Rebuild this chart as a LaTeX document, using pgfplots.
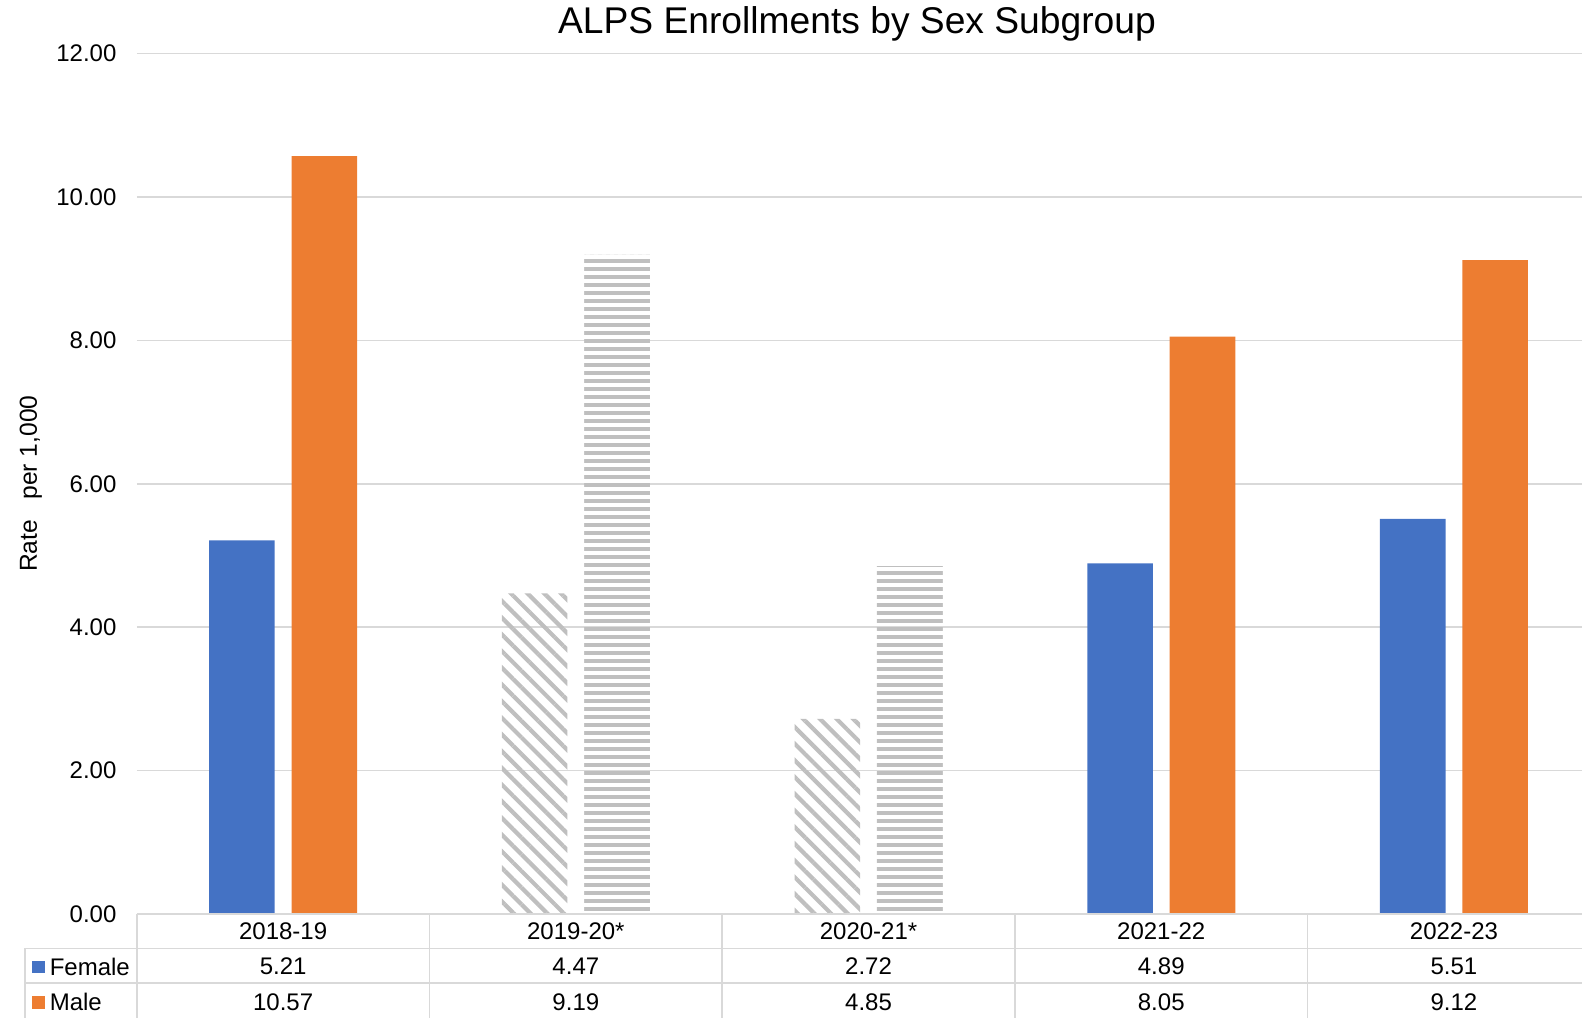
\documentclass[border=0pt]{standalone}
\usepackage{pgfplots}
\pgfplotsset{compat=1.18}
\usepackage{fontspec}
\setmainfont{Liberation Sans}
\usetikzlibrary{patterns,patterns.meta}
\definecolor{fblue}{HTML}{4472C4}
\definecolor{morange}{HTML}{ED7D31}
\definecolor{hatchc}{HTML}{BFBFBF}
\definecolor{gridc}{HTML}{D9D9D9}
\pgfdeclarepatternformonly{thickhlines}{\pgfpoint{-1pt}{0pt}}{\pgfpoint{5pt}{4pt}}{\pgfpoint{4pt}{4pt}}{
  \pgfpathrectangle{\pgfpoint{-1pt}{1pt}}{\pgfpoint{6pt}{2pt}}
  \pgfusepath{fill}
}
\begin{document}
\begin{tikzpicture}
\path[use as bounding box, clip] (-68.4pt,-51.5pt) rectangle (722.6pt,457pt);
\begin{axis}[
  scale only axis, width=731.75pt, height=430.25pt,
  at={(0,0)}, anchor=south west,
  xmin=-0.5, xmax=4.5, ymin=0, ymax=12,
  xtick={0,1,2,3,4},
  xticklabels={2018-19,2019-20*,2020-21*,2021-22,2022-23},
  ytick={0,2,4,6,8,10,12},
  /pgf/number format/assume math mode=true,
  yticklabel={\pgfmathprintnumber[fixed,fixed zerofill,precision=2]{\tick}},
  major tick length=0pt,
  axis line style={draw=none},
  ymajorgrids, grid style={gridc, line width=0.75pt},
  tick label style={font=\fontsize{12}{14}\selectfont},
  yticklabel style={anchor=east, inner sep=0pt, xshift=-10pt},
  xticklabel style={anchor=base, inner sep=0pt, yshift=-12.65pt},
  title={ALPS Enrollments by Sex Subgroup},
  title style={font=\fontsize{18.6}{22}\selectfont, at={(axis description cs:0.4921,1)}, anchor=base, inner sep=0pt, yshift=4pt},
  ylabel={Rate\ \ \ per 1,000},
  ylabel style={font=\fontsize{12.3}{14}\selectfont, at={(axis description cs:-0.0724,0.5)}, anchor=center, inner sep=0pt},
  legend style={draw=none, fill=none, inner xsep=0pt, inner ysep=0pt,
    at={(axis description cs:0,0)}, anchor=north west, xshift=-52.4pt, yshift=-17.2pt,
    row sep=0pt, column sep=2.4pt,
    font=\fontsize{12}{14}\selectfont,
    nodes={inner sep=0pt, text height=13.3pt, text depth=4.35pt}},
  legend cell align=left,
  legend image code/.code={\fill[#1] (0pt,-3.4pt) rectangle (6.3pt,2.7pt);},
  clip=false,
]
% Female, solid years
\addplot[ybar, bar width=32.8pt, bar shift=-20.6pt, fill=fblue, draw=none]
  coordinates {(0,5.21) (3,4.89) (4,5.51)};
\addlegendentry{Female}
% Male, solid years
\addplot[ybar, bar width=32.8pt, bar shift=20.6pt, fill=morange, draw=none]
  coordinates {(0,10.57) (3,8.05) (4,9.12)};
\addlegendentry{Male}
% Female, hatched years
\addplot[ybar, bar width=32.8pt, bar shift=-20.6pt, draw=none, forget plot,
  pattern={Lines[angle=-45, distance=5.9pt, line width=2.1pt]}, pattern color=hatchc]
  coordinates {(1,4.47) (2,2.72)};
% Male, hatched years
\addplot[ybar, bar width=32.8pt, bar shift=20.6pt, draw=none, forget plot,
  pattern=thickhlines, pattern color=hatchc]
  coordinates {(1,9.19) (2,4.85)};
% data table values
\node[anchor=base, font=\fontsize{12}{14}\selectfont, yshift=-30.4pt] at (axis cs:0,0) {5.21};
\node[anchor=base, font=\fontsize{12}{14}\selectfont, yshift=-30.4pt] at (axis cs:1,0) {4.47};
\node[anchor=base, font=\fontsize{12}{14}\selectfont, yshift=-30.4pt] at (axis cs:2,0) {2.72};
\node[anchor=base, font=\fontsize{12}{14}\selectfont, yshift=-30.4pt] at (axis cs:3,0) {4.89};
\node[anchor=base, font=\fontsize{12}{14}\selectfont, yshift=-30.4pt] at (axis cs:4,0) {5.51};
\node[anchor=base, font=\fontsize{12}{14}\selectfont, yshift=-48.1pt] at (axis cs:0,0) {10.57};
\node[anchor=base, font=\fontsize{12}{14}\selectfont, yshift=-48.1pt] at (axis cs:1,0) {9.19};
\node[anchor=base, font=\fontsize{12}{14}\selectfont, yshift=-48.1pt] at (axis cs:2,0) {4.85};
\node[anchor=base, font=\fontsize{12}{14}\selectfont, yshift=-48.1pt] at (axis cs:3,0) {8.05};
\node[anchor=base, font=\fontsize{12}{14}\selectfont, yshift=-48.1pt] at (axis cs:4,0) {9.12};
\end{axis}
% data table grid
\begin{scope}[draw=gridc, line width=0.8pt]
  \draw (0pt,0pt) -- (731.75pt,0pt);
  \draw (-55.9pt,-17.2pt) -- (731.75pt,-17.2pt);
  \draw (-55.9pt,-34.6pt) -- (731.75pt,-34.6pt);
  \draw (-55.9pt,-17.2pt) -- (-55.9pt,-60pt);
  \foreach \i in {0,1,2,3,4,5} {
    \draw ({146.35pt*\i},0pt) -- ({146.35pt*\i},-60pt);
  }
\end{scope}
\end{tikzpicture}
\end{document}
